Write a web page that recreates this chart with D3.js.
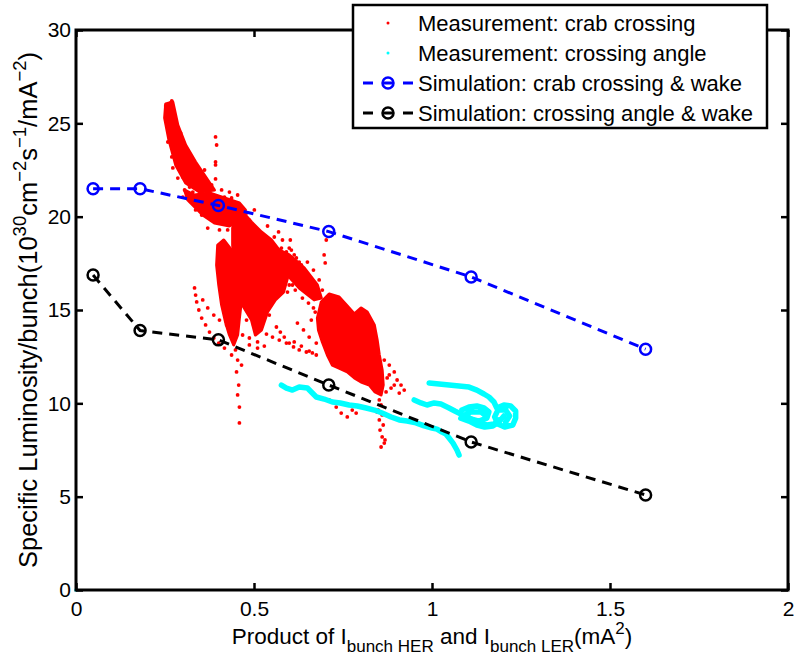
<!DOCTYPE html>
<html>
<head>
<meta charset="utf-8">
<script src="https://cdn.jsdelivr.net/npm/d3@7"></script>
<style>
  body { margin: 0; background: #fff; }
  text { font-family: "Liberation Sans", Arial, sans-serif; fill: #000; }
</style>
</head>
<body>
<div id="chart"></div>
<script>
const width = 794, height = 660;
const margin = { top: 30, right: 6, bottom: 70, left: 76 };

const xTicks = [0, 0.5, 1, 1.5, 2];
const yTicks = [0, 5, 10, 15, 20, 25, 30];

// simulation curves
const simX = [0.048, 0.18, 0.40, 0.71, 1.11, 1.60];
const simCrab = [21.5, 21.5, 20.6, 19.2, 16.77, 12.9];
const simAngle = [16.87, 13.9, 13.4, 10.98, 7.93, 5.09];

// measurement: crab crossing, sparse dots
const redTail = [
  [0.269,26.20],[0.266,26.09],[0.252,25.93],[0.255,25.66],[0.261,25.45],[0.255,25.18],[0.269,25.02],
  [0.258,24.75],[0.272,24.64],[0.263,24.48],[0.277,24.38],[0.294,24.48],[0.269,24.11],[0.283,24.11],
  [0.258,24.00],[0.294,23.95],[0.272,23.73],[0.286,23.68],[0.300,23.46],[0.277,23.41],[0.314,23.41],
  [0.269,23.20],[0.291,23.14],[0.305,23.14],[0.319,23.04],[0.283,22.93],[0.300,22.77],[0.272,22.61],
  [0.319,22.66],[0.291,22.50],[0.311,22.39],[0.328,22.50],[0.300,22.12],[0.325,22.12],[0.342,22.07],
  [0.286,22.07],[0.311,21.86],[0.333,21.80],[0.361,22.50],[0.356,22.07],[0.319,21.59],[0.347,21.59],
  [0.367,21.59],[0.305,21.43],[0.328,21.32],[0.356,21.32],[0.300,21.05],[0.339,21.05],[0.370,21.16],
  [0.328,20.79],[0.353,20.73],[0.375,20.79],[0.431,21.32],[0.437,21.00],[0.417,21.05],[0.347,20.46],
  [0.361,20.25],[0.353,20.09],[0.381,20.20],[0.423,20.36],[0.440,20.09],[0.459,19.98],[0.479,20.20],
  [0.392,24.27],[0.395,23.84],[0.392,22.93],[0.392,22.77],[0.392,22.02],
  [0.319,20.89],[0.336,20.36],[0.370,19.39],[0.403,19.29],[0.487,19.82],[0.501,20.36],[0.454,21.16],
  [0.409,21.43],[0.381,21.70]
];
const redStreaks = [
  [0.333,16.18],[0.336,15.80],[0.339,15.43],[0.345,15.00],[0.353,14.57],[0.364,14.20],[0.375,13.82],
  [0.387,13.50],[0.401,13.23],[0.417,12.96],
  [0.356,15.54],[0.370,15.11],[0.387,14.73],[0.403,14.46],[0.423,14.20],[0.445,13.93],[0.468,13.66],
  [0.487,13.50],[0.510,13.29],[0.529,13.07],
  [0.479,14.46],[0.499,14.20],[0.515,13.93],[0.535,13.71],[0.552,13.55],[0.571,13.39],[0.591,13.23],
  [0.611,13.02],[0.627,12.86],[0.647,12.75],[0.664,12.70],
  [0.563,14.09],[0.574,13.82],[0.585,13.55],[0.599,13.23],
  [0.613,13.29],[0.633,13.07],[0.655,12.80],[0.675,12.59],
  [0.622,14.30],[0.639,13.93],[0.655,13.55],[0.675,13.23]
];
const redScatter = [
  [0.557,18.91],[0.580,18.75],[0.599,18.32],[0.613,17.95],[0.627,17.57],[0.641,17.14],[0.655,16.71],
  [0.669,16.34],[0.622,16.87],[0.599,17.14],[0.585,17.79],[0.641,16.07],[0.661,15.80],[0.627,16.45],
  [0.608,16.34],[0.616,17.52],[0.594,15.96],[0.636,15.64],[0.653,15.37],[0.667,15.11],[0.569,19.18],
  [0.602,18.75],[0.538,19.50],[0.426,19.29],[0.613,16.87],[0.605,17.79],[0.543,14.73],[0.487,13.13],
  [0.510,12.96],[0.672,14.89],[0.661,14.46],
  [0.577,18.32],[0.591,18.11],[0.605,18.21],[0.619,17.79],[0.633,17.41],[0.591,17.41],[0.605,16.82],
  [0.627,16.61],[0.644,16.82],[0.658,16.45],[0.675,16.07],[0.639,16.23],[0.655,15.96],[0.678,15.64],
  [0.616,16.07],[0.580,16.61],[0.599,16.34],[0.571,17.14],[0.650,17.57],[0.667,17.14],[0.683,16.61],
  [0.692,16.07],
  [0.448,12.86],[0.454,12.32],[0.451,11.68],[0.457,10.98],[0.454,10.45],[0.459,9.80],[0.459,8.95],
  [0.437,12.59],[0.465,12.05],
  [0.703,18.75],[0.697,17.95],[0.700,17.52],
  [0.852,10.18],[0.857,9.91],[0.849,9.64],[0.860,9.38],[0.852,9.11],[0.863,8.84],[0.854,8.57],
  [0.860,8.20],[0.866,7.87],[0.857,7.66],[0.868,8.04],[0.846,9.54],
  [0.866,12.32],[0.880,12.05],[0.894,11.68],[0.902,11.25],[0.913,10.98],[0.922,10.71],[0.908,10.55],
  [0.885,10.82],[0.874,11.36],[0.894,10.98],[0.880,11.52],[0.871,10.61],
  [0.731,9.80],[0.745,9.48],[0.762,9.27],[0.776,9.64],[0.787,9.48],[0.711,10.18]
];
// dense cores of the crab crossing cloud (outlines)
const redCoreTail = [[0.252,26.04],[0.272,26.14],[0.286,24.91],[0.308,23.84],[0.336,22.93],[0.370,21.96],
  [0.389,21.43],[0.347,21.32],[0.308,21.80],[0.280,22.77],[0.261,24.11],[0.249,25.29]];
const redCoreA = [[0.305,21.43],[0.333,21.16],[0.375,21.27],[0.417,21.00],[0.459,20.73],[0.476,20.36],
  [0.465,19.82],[0.431,19.50],[0.389,19.66],[0.356,20.09],[0.314,20.89]];
const redCoreB = [[0.448,19.98],[0.473,20.14],[0.493,19.71],[0.521,19.18],[0.549,18.75],[0.571,18.21],
  [0.585,17.57],[0.594,16.71],[0.583,15.96],[0.560,15.54],[0.538,14.89],[0.521,13.93],[0.504,13.66],
  [0.493,14.46],[0.476,15.00],[0.459,15.54],[0.448,16.34],[0.445,17.41],[0.440,18.48],[0.440,19.39]];
const redCoreC = [[0.398,18.48],[0.415,18.75],[0.437,18.21],[0.451,17.57],[0.459,16.61],[0.465,15.54],
  [0.459,14.57],[0.454,13.66],[0.443,13.13],[0.431,13.66],[0.420,14.36],[0.409,15.27],[0.401,16.34],
  [0.395,17.41]];
const redCoreBand = [[0.571,18.21],[0.599,17.95],[0.641,17.25],[0.678,16.34],[0.689,15.64],[0.669,15.54],
  [0.627,16.18],[0.594,16.87],[0.577,17.57]];
const redCoreD = [[0.678,14.57],[0.689,15.43],[0.711,15.86],[0.739,15.70],[0.762,15.21],[0.782,14.79],
  [0.801,15.11],[0.818,14.89],[0.838,14.20],[0.846,13.39],[0.852,12.59],[0.860,11.79],[0.863,10.98],
  [0.857,10.45],[0.840,10.61],[0.824,10.98],[0.801,11.14],[0.782,11.36],[0.762,11.68],[0.739,11.89],
  [0.720,12.05],[0.706,12.59],[0.692,13.29],[0.681,13.93]];

// measurement: crossing angle (traces)
const cyanTraceA = [[0.577,10.98],[0.591,10.82],[0.608,10.71],[0.627,10.87],[0.650,10.82],[0.661,10.61],
  [0.675,10.34],[0.697,10.23],[0.720,10.07],[0.742,10.02],[0.767,9.91],[0.790,9.86],[0.815,9.75],
  [0.838,9.64],[0.860,9.48],[0.885,9.27],[0.908,9.11],[0.930,9.05],[0.955,8.95],[0.978,8.79],
  [1.000,8.68],[1.014,8.62],[1.028,8.46],[1.039,8.36],[1.048,8.14],[1.059,7.87],[1.070,7.50],[1.076,7.23]];
const cyanTraceB = [[0.992,11.09],[1.020,11.04],[1.048,10.98],[1.076,10.93],[1.104,10.87],[1.126,10.71],
  [1.146,10.50],[1.160,10.34],[1.174,10.07],[1.182,9.75],[1.202,9.91],[1.221,9.86],[1.235,9.59],
  [1.235,9.21],[1.227,8.84],[1.204,8.73],[1.185,8.89],[1.176,9.27],[1.185,9.64],[1.207,9.64],
  [1.218,9.32],[1.207,9.00]];
const cyanTraceC = [[0.950,10.18],[0.969,10.02],[0.986,9.91],[1.006,10.02],[1.025,9.96],[1.048,9.75],
  [1.064,9.59],[1.081,9.43],[1.098,9.27],[1.115,9.11],[1.132,8.95],[1.154,8.84],[1.174,8.89],[1.188,9.11]];
const cyanTraceD = [[1.084,9.64],[1.104,9.80],[1.126,9.86],[1.146,9.75],[1.160,9.54],[1.154,9.21],
  [1.132,9.05],[1.109,9.16],[1.092,9.38],[1.109,9.54],[1.137,9.54],[1.148,9.38]];
const cyanTraceE = [[1.081,9.21],[1.104,9.05],[1.126,8.84],[1.148,8.73],[1.171,8.79],[1.188,9.00],[1.202,9.32]];
const cyanPoints = [[0, 0]];

const legendLabels = ['Measurement: crab crossing', 'Measurement: crossing angle',
  'Simulation: crab crossing & wake', 'Simulation: crossing angle & wake'];

const RED = '#ff0000', CYAN = '#00ffff', BLUE = '#0000ff', BLACK = '#000000';

const xScale = d3.scaleLinear().domain([0, 2]).range([margin.left, width - margin.right]);
const yScale = d3.scaleLinear().domain([0, 30]).range([height - margin.bottom, margin.top]);

const svg = d3.select('#chart').append('svg')
  .attr('width', width).attr('height', height);
svg.append('rect').attr('width', width).attr('height', height).attr('fill', '#fff');

const plot = svg.append('g');
const line = d3.line().x(d => xScale(d[0])).y(d => yScale(d[1]));

// red cores
[redCoreTail, redCoreA, redCoreB, redCoreC, redCoreBand, redCoreD].forEach(core => {
  plot.append('path')
    .attr('d', line(core) + 'Z')
    .attr('fill', RED).attr('stroke', RED)
    .attr('stroke-width', 3).attr('stroke-linejoin', 'round');
});
plot.selectAll('circle.red')
  .data(redTail.concat(redStreaks, redScatter))
  .enter().append('circle')
  .attr('class', 'red')
  .attr('cx', d => xScale(d[0])).attr('cy', d => yScale(d[1]))
  .attr('r', 1.9).attr('fill', RED);

// cyan traces
[cyanTraceA, cyanTraceB, cyanTraceC, cyanTraceD, cyanTraceE].forEach(tr => {
  plot.append('path')
    .attr('d', line(tr))
    .attr('fill', 'none').attr('stroke', CYAN)
    .attr('stroke-width', 5.5).attr('stroke-linejoin', 'round').attr('stroke-linecap', 'round');
});
plot.selectAll('circle.cyan')
  .data(cyanPoints)
  .enter().append('circle')
  .attr('class', 'cyan')
  .attr('cx', d => xScale(d[0])).attr('cy', d => yScale(d[1]))
  .attr('r', 1.8).attr('fill', CYAN);

function drawSim(ys, color) {
  const pts = simX.map((x, i) => [x, ys[i]]);
  plot.append('path')
    .attr('d', line(pts))
    .attr('fill', 'none').attr('stroke', color)
    .attr('stroke-width', 3).attr('stroke-dasharray', '10,7');
  plot.selectAll(null)
    .data(pts)
    .enter().append('circle')
    .attr('cx', d => xScale(d[0])).attr('cy', d => yScale(d[1]))
    .attr('r', 5.5).attr('fill', 'none')
    .attr('stroke', color).attr('stroke-width', 2.5);
}
drawSim(simCrab, BLUE);
drawSim(simAngle, BLACK);

// axes (MATLAB style: box, inward ticks)
const x0 = xScale(0), x1 = xScale(2), y0 = yScale(0), y1 = yScale(30);
const axB = svg.append('g').attr('transform', 'translate(0,' + y0 + ')')
  .call(d3.axisBottom(xScale).tickValues(xTicks).tickSizeInner(-7).tickSizeOuter(0)
    .tickPadding(11).tickFormat(d3.format('')));
const axT = svg.append('g').attr('transform', 'translate(0,' + y1 + ')')
  .call(d3.axisTop(xScale).tickValues(xTicks).tickSizeInner(-7).tickSizeOuter(0).tickFormat(''));
const axL = svg.append('g').attr('transform', 'translate(' + x0 + ',0)')
  .call(d3.axisLeft(yScale).tickValues(yTicks).tickSizeInner(-7).tickSizeOuter(0)
    .tickPadding(5).tickFormat(d3.format('')));
const axR = svg.append('g').attr('transform', 'translate(' + x1 + ',0)')
  .call(d3.axisRight(yScale).tickValues(yTicks).tickSizeInner(-7).tickSizeOuter(0).tickFormat(''));
[axB, axT, axL, axR].forEach(a => {
  a.select('.domain').remove();
  a.selectAll('.tick line').attr('stroke', BLACK).attr('stroke-width', 2.5);
  a.selectAll('.tick text').attr('font-size', 21).attr('fill', BLACK)
    .style('font-family', '"Liberation Sans", Arial, sans-serif');
});
svg.append('rect')
  .attr('x', x0).attr('y', y1).attr('width', x1 - x0).attr('height', y0 - y1)
  .attr('fill', 'none').attr('stroke', BLACK).attr('stroke-width', 3);

// x label
const xl = svg.append('text').attr('x', (x0 + x1) / 2).attr('y', 644)
  .attr('text-anchor', 'middle').attr('font-size', 22.5);
xl.append('tspan').text('Product of I');
xl.append('tspan').attr('dy', 8).attr('font-size', 17).text('bunch HER');
xl.append('tspan').attr('dy', -8).text(' and I');
xl.append('tspan').attr('dy', 8).attr('font-size', 17).text('bunch LER');
xl.append('tspan').attr('dy', -8).text('(mA');
xl.append('tspan').attr('dy', -10).attr('font-size', 17).text('2');
xl.append('tspan').attr('dy', 10).text(')');

// y label
const yl = svg.append('text')
  .attr('transform', 'translate(37,' + ((y0 + y1) / 2) + ') rotate(-90)')
  .attr('text-anchor', 'middle').attr('font-size', 25.5);
yl.append('tspan').text('Specific Luminosity/bunch(10');
yl.append('tspan').attr('dy', -11).attr('font-size', 18.5).text('30');
yl.append('tspan').attr('dy', 11).text('cm');
yl.append('tspan').attr('dy', -11).attr('font-size', 18.5).text('\u22122');
yl.append('tspan').attr('dy', 11).text('s');
yl.append('tspan').attr('dy', -11).attr('font-size', 18.5).text('\u22121');
yl.append('tspan').attr('dy', 11).text('/mA');
yl.append('tspan').attr('dy', -11).attr('font-size', 18.5).text('\u22122');
yl.append('tspan').attr('dy', 11).text(')');

// legend
const lg = svg.append('g');
lg.append('rect').attr('x', 353).attr('y', 5).attr('width', 414).attr('height', 123)
  .attr('fill', '#fff').attr('stroke', BLACK).attr('stroke-width', 2.5);
const rowY = [23, 53, 83, 113];
lg.append('circle').attr('cx', 388).attr('cy', rowY[0]).attr('r', 1.5).attr('fill', RED);
lg.append('circle').attr('cx', 388).attr('cy', rowY[1]).attr('r', 1.5).attr('fill', CYAN);
[[rowY[2], BLUE], [rowY[3], BLACK]].forEach(([yy, c]) => {
  lg.append('line').attr('x1', 363).attr('x2', 413).attr('y1', yy).attr('y2', yy)
    .attr('stroke', c).attr('stroke-width', 3).attr('stroke-dasharray', '10,10');
  lg.append('circle').attr('cx', 388).attr('cy', yy).attr('r', 5.5)
    .attr('fill', 'none').attr('stroke', c).attr('stroke-width', 2.5);
});
lg.selectAll('text.lab').data(legendLabels).enter().append('text')
  .attr('class', 'lab')
  .attr('x', 418).attr('y', (d, i) => rowY[i] + 7.5)
  .attr('font-size', 22).text(d => d);
</script>
</body>
</html>
